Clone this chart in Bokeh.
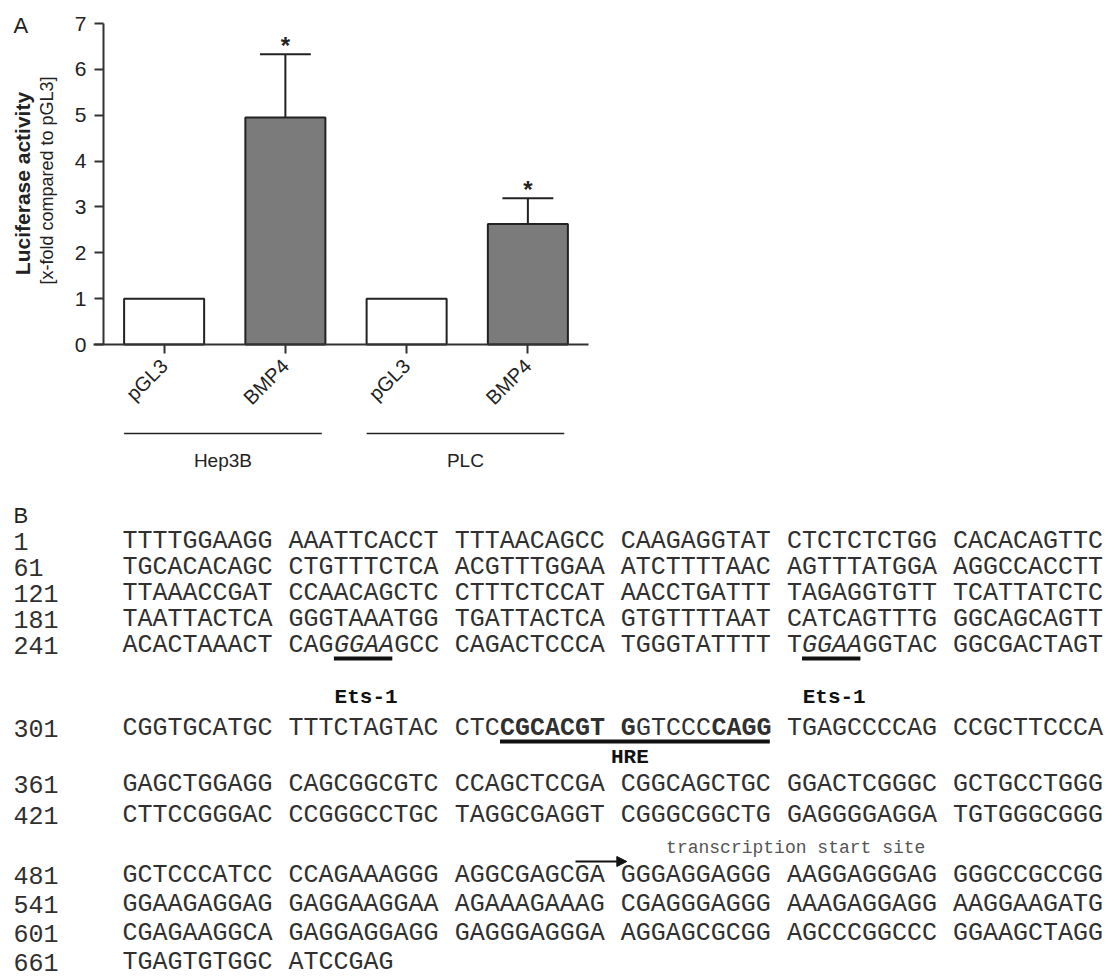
import math
import numpy as np
from bokeh.plotting import figure
from bokeh.models import Range1d, FixedTicker, ColumnDataSource, Arrow, NormalHead
from bokeh.embed import file_html
from bokeh.resources import INLINE
from bokeh.core.properties import value

# ---------------- data: panel A ----------------
conditions = ["pGL3", "BMP4", "pGL3", "BMP4"]
cell_lines = ["Hep3B", "PLC"]
cell_line_of_bar = ["Hep3B", "Hep3B", "PLC", "PLC"]
luciferase_fold = [1.0, 4.95, 1.0, 2.63]
error_upper = [0.0, 1.38, 0.0, 0.56]
significant = [False, True, False, True]
y_ticks = [0, 1, 2, 3, 4, 5, 6, 7]

# ---------------- data: panel B ----------------
seq_start = [1, 61, 121, 181, 241, 301, 361, 421, 481, 541, 601, 661]
seq_text = [
    "TTTTGGAAGG AAATTCACCT TTTAACAGCC CAAGAGGTAT CTCTCTCTGG CACACAGTTC",
    "TGCACACAGC CTGTTTCTCA ACGTTTGGAA ATCTTTTAAC AGTTTATGGA AGGCCACCTT",
    "TTAAACCGAT CCAACAGCTC CTTTCTCCAT AACCTGATTT TAGAGGTGTT TCATTATCTC",
    "TAATTACTCA GGGTAAATGG TGATTACTCA GTGTTTTAAT CATCAGTTTG GGCAGCAGTT",
    "ACACTAAACT CAGGGAAGCC CAGACTCCCA TGGGTATTTT TGGAAGGTAC GGCGACTAGT",
    "CGGTGCATGC TTTCTAGTAC CTCCGCACGT GGTCCCCAGG TGAGCCCCAG CCGCTTCCCA",
    "GAGCTGGAGG CAGCGGCGTC CCAGCTCCGA CGGCAGCTGC GGACTCGGGC GCTGCCTGGG",
    "CTTCCGGGAC CCGGGCCTGC TAGGCGAGGT CGGGCGGCTG GAGGGGAGGA TGTGGGCGGG",
    "GCTCCCATCC CCAGAAAGGG AGGCGAGCGA GGGAGGAGGG AAGGAGGGAG GGGCCGCCGG",
    "GGAAGAGGAG GAGGAAGGAA AGAAAGAAAG CGAGGGAGGG AAAGAGGAGG AAGGAAGATG",
    "CGAGAAGGCA GAGGAGGAGG GAGGGAGGGA AGGAGCGCGG AGCCCGGCCC GGAAGCTAGG",
    "TGAGTGTGGC ATCCGAG",
]
# sites: (row start, first char index, last char index) in the row string
ets_sites = [(241, 14, 17), (241, 45, 48)]
ets_label = "Ets-1"
hre_row = 301
hre_bold = [(25, 31), (33, 33), (39, 42)]
hre_span = (25, 42)
hre_label = "HRE"
tss_row = 481
tss_arrow = (30, 33.4)
tss_label = "transcription start site"
tss_label_start = 36

# ---------------- layout constants (pixels from top-left) ----------------
W, H = 1108, 978
FX0, FX1 = 103, 588          # x of bar-chart frame (x = 0.5 .. 4.5)
FY0, FY1 = 23, 344           # y of bar-chart frame (y = 7 .. 0)
XR = (0.5, 4.5)
YR = (0, 7)

def dx(px):
    return XR[0] + (px - FX0) * (XR[1] - XR[0]) / (FX1 - FX0)

def dy(py):
    return YR[0] + (FY1 - py) * (YR[1] - YR[0]) / (FY1 - FY0)

SANS = "Liberation Sans"
MONO = "Liberation Mono"
INK = "#222222"

p = figure(width=W, height=H, x_range=Range1d(dx(0), dx(W)), y_range=Range1d(dy(H), dy(0)),
           output_backend="svg", toolbar_location=None, title=None, min_border=0)
p.grid.visible = False
p.outline_line_color = None
p.background_fill_color = "white"
p.border_fill_color = "white"

# ================= Panel A =================
xpos = np.arange(1, len(conditions) + 1)
fills = ["white" if c == "pGL3" else "#7b7b7b" for c in conditions]
srcA = ColumnDataSource(dict(x=xpos, top=luciferase_fold, fill=fills))
p.vbar(x="x", top="top", bottom=0, width=0.66, fill_color="fill", line_color=INK,
       line_width=2, source=srcA)

ex = [float(x) for x, e in zip(xpos, error_upper) if e > 0]
et = [t for t, e in zip(luciferase_fold, error_upper) if e > 0]
ee = [e for e in error_upper if e > 0]
etop = [t + e for t, e in zip(et, ee)]
p.segment(x0=ex, y0=et, x1=ex, y1=etop, line_color=INK, line_width=2)
p.segment(x0=[x - 0.21 for x in ex], y0=etop, x1=[x + 0.21 for x in ex], y1=etop,
          line_color=INK, line_width=2)

sx = [float(x) for x, s in zip(xpos, significant) if s]
sy = [t + e + 0.19 for t, e, s in zip(luciferase_fold, error_upper, significant) if s]
p.text(x=sx, y=sy, text=["*"] * len(sx), text_font=value(SANS), text_font_style="bold",
       text_font_size="24px", text_align="center", text_baseline="alphabetic",
       text_color=INK)

ya = p.yaxis[0]
ya.fixed_location = XR[0]
ya.bounds = YR
ya.ticker = FixedTicker(ticks=y_ticks)
ya.major_tick_out = 9
ya.major_tick_in = 0
ya.minor_tick_line_color = None
ya.major_label_standoff = 8
ya.major_label_text_font = SANS
ya.major_label_text_font_size = "21px"
ya.major_label_text_color = INK
ya.axis_line_width = 2
ya.axis_line_color = "#333333"
ya.major_tick_line_width = 2
ya.major_tick_line_color = "#333333"

xa = p.xaxis[0]
xa.fixed_location = YR[0]
xa.bounds = (dx(93), XR[1])
xa.ticker = FixedTicker(ticks=[int(x) for x in xpos])
xa.major_label_overrides = {int(x): c for x, c in zip(xpos, conditions)}
xa.major_label_orientation = math.pi / 4
xa.major_tick_out = 9
xa.major_tick_in = 0
xa.minor_tick_line_color = None
xa.major_label_standoff = 9
xa.major_label_text_font = SANS
xa.major_label_text_font_size = "20px"
xa.major_label_text_color = INK
xa.axis_line_width = 2
xa.axis_line_color = "#333333"
xa.major_tick_line_width = 2
xa.major_tick_line_color = "#333333"

# panel letter and y-axis title
p.text(x=[dx(13)], y=[dy(25)], text=["A"], text_font=value(SANS), text_font_size="22px",
       text_align="left", text_baseline="middle", text_color=INK)
p.text(x=[dx(22)], y=[dy(183)], text=["Luciferase activity"], angle=math.pi / 2,
       text_font=value(SANS), text_font_size="21px", text_font_style="bold",
       text_align="center", text_baseline="middle", text_color=INK)
p.text(x=[dx(46)], y=[dy(180)], text=["[x-fold compared to pGL3]"], angle=math.pi / 2,
       text_font=value(SANS), text_font_size="18px",
       text_align="center", text_baseline="middle", text_color=INK)

# group brackets under the x axis
for g in cell_lines:
    members = [float(x) for x, c in zip(xpos, cell_line_of_bar) if c == g]
    x0, x1 = min(members) - 0.33, max(members) + 0.30
    p.segment(x0=[x0], y0=[dy(433)], x1=[x1], y1=[dy(433)], line_color=INK, line_width=1.5)
    p.text(x=[(x0 + x1) / 2], y=[dy(460)], text=[g], text_font=value(SANS),
           text_font_size="19px", text_align="center", text_baseline="middle",
           text_color=INK)

# ================= Panel B =================
PITCH = 15.1
SEQ_X0 = 122
NUM_X = 13
SEQ_SIZE = "25px"
row_y = [541, 567, 593, 619, 645, 728, 784, 815, 875, 904, 933, 962]
SEQ_COLOR = "#303030"

def cx(j):
    return SEQ_X0 + PITCH * j

def char_style(start, j):
    italic = any(start == r and a <= j <= b for r, a, b in ets_sites)
    bold = start == hre_row and any(a <= j <= b for a, b in hre_bold)
    if bold and italic:
        return "bold italic"
    if bold:
        return "bold"
    if italic:
        return "italic"
    return "normal"

runs = {s: dict(x=[], y=[], text=[]) for s in ["normal", "bold", "italic", "bold italic"]}
for start, txt, yy in zip(seq_start, seq_text, row_y):
    j = 0
    while j < len(txt):
        if txt[j] == " ":
            j += 1
            continue
        st = char_style(start, j)
        k = j
        while k < len(txt) and txt[k] != " " and char_style(start, k) == st:
            k += 1
        runs[st]["x"].append(dx(cx(j)))
        runs[st]["y"].append(dy(yy))
        runs[st]["text"].append(txt[j:k])
        j = k

for st, d in runs.items():
    if not d["x"]:
        continue
    p.text(x="x", y="y", text="text", source=ColumnDataSource(d),
           text_font=value(MONO), text_font_style=st, text_font_size=SEQ_SIZE,
           text_align="left", text_baseline="middle", text_color=SEQ_COLOR)

p.text(x=[dx(NUM_X)] * len(seq_start), y=[dy(v) for v in row_y],
       text=[str(n) for n in seq_start],
       text_font=value(MONO), text_font_size=SEQ_SIZE, text_align="left",
       text_baseline="middle", text_color=SEQ_COLOR)

p.text(x=[dx(13)], y=[dy(515)], text=["B"], text_font=value(SANS), text_font_size="22px",
       text_align="left", text_baseline="middle", text_color=INK)

y_of = dict(zip(seq_start, row_y))

# Ets-1 sites
for r, a, b in ets_sites:
    x0, x1 = cx(a), cx(b + 1) - 2
    yu = y_of[r] + 13
    p.segment(x0=[dx(x0)], y0=[dy(yu)], x1=[dx(x1)], y1=[dy(yu)],
              line_color="#111111", line_width=4)
    p.text(x=[dx((x0 + x1) / 2 + 3)], y=[dy(y_of[r] + 52)], text=[ets_label],
           text_font=value(MONO), text_font_style="bold", text_font_size="21px",
           text_align="center", text_baseline="middle", text_color="#111111")

# HRE
hx0, hx1 = cx(hre_span[0]), cx(hre_span[1] + 1) - 2
hy = y_of[hre_row] + 13
p.segment(x0=[dx(hx0)], y0=[dy(hy)], x1=[dx(hx1)], y1=[dy(hy)],
          line_color="#111111", line_width=4)
p.text(x=[dx((hx0 + hx1) / 2 - 5)], y=[dy(y_of[hre_row] + 29)], text=[hre_label],
       text_font=value(MONO), text_font_style="bold", text_font_size="21px",
       text_align="center", text_baseline="middle", text_color="#111111")

# transcription start site
ty = y_of[tss_row]
p.add_layout(Arrow(end=NormalHead(size=10, fill_color="#111111", line_color="#111111"),
                   x_start=dx(cx(tss_arrow[0])), y_start=dy(ty - 14),
                   x_end=dx(cx(tss_arrow[1])), y_end=dy(ty - 14),
                   line_color="#111111", line_width=2))
p.text(x=[dx(cx(tss_label_start))], y=[dy(ty - 28)], text=[tss_label],
       text_font=value(MONO), text_font_size="18px", text_align="left",
       text_baseline="middle", text_color="#555555")

open("out.html", "w").write(file_html(p, INLINE))
